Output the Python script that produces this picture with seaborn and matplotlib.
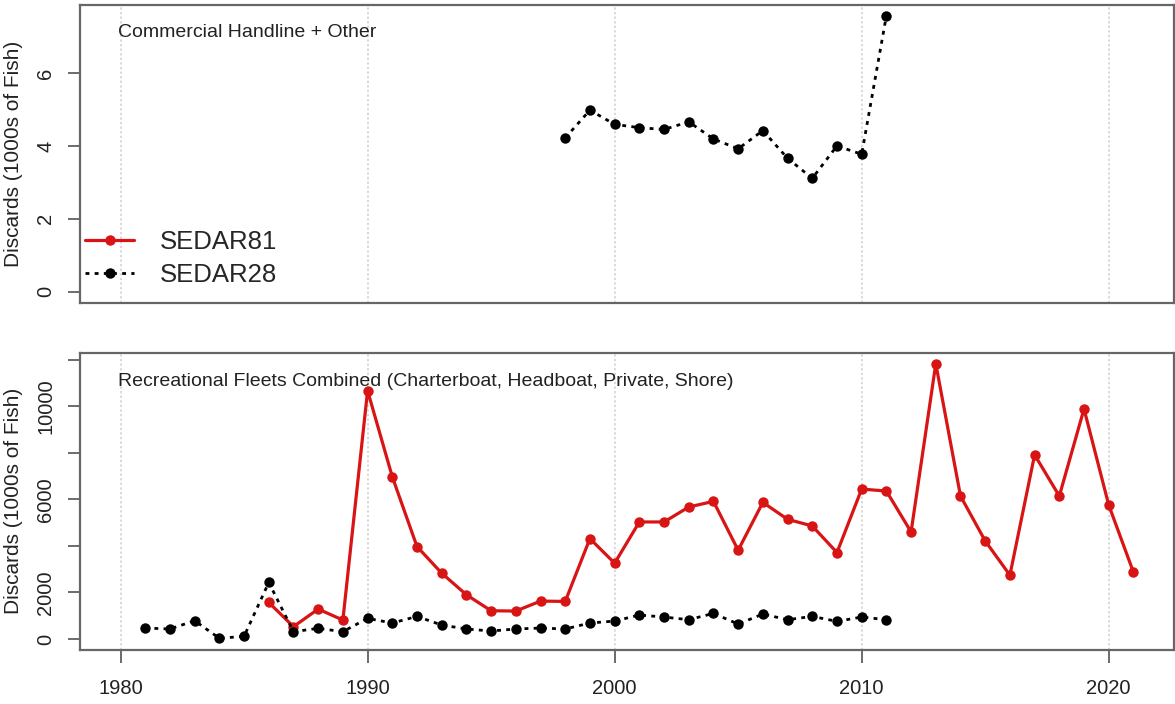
import seaborn as sns
from matplotlib import pyplot as plt
import numpy as np
import pandas as pd

# commercial handline + other (SEDAR28 only)
com_years_s28 = list(range(1998, 2012))
com_s28 = [4.22, 4.98, 4.59, 4.50, 4.45, 4.66, 4.19, 3.92, 4.42, 3.66, 3.11, 4.00, 3.77, 7.57]

# recreational fleets combined
rec_years_s81 = list(range(1986, 2022))
rec_s81 = [1571, 530, 1286, 814, 10670, 6971, 3971, 2829, 1900, 1214, 1200, 1629, 1614, 4314,
           3257, 5029, 5029, 5671, 5914, 3814, 5871, 5143, 4857, 3714, 6443, 6357, 4600, 11829,
           6143, 4214, 2743, 7914, 6143, 9886, 5757, 2871]
rec_years_s28 = list(range(1981, 2012))
rec_s28 = [470, 430, 786, 30, 115, 2430, 315, 457, 315, 886, 686, 971, 600, 430, 343, 430,
           470, 430, 686, 771, 1029, 943, 829, 1100, 643, 1071, 829, 971, 757, 943, 829]

xticks = [1980, 1990, 2000, 2010, 2020]
top_yticks = [0, 2, 4, 6]
bot_yticks = [0, 2000, 4000, 6000, 8000, 10000, 12000]
bot_ylabels = ['0', '2000', '', '6000', '', '10000', '']

sns.set_style('white')
plt.rcParams['font.family'] = ['Liberation Sans', 'DejaVu Sans']

RED = '#d81414'
DOT = (0, (1.4, 1.9))
TXT = '#222222'


def rpad(lo, hi):
    # R style 4% axis padding
    d = (hi - lo) * 0.04
    return lo - d, hi + d


def style_axes(ax, ylim, yticks, ylabels, show_x):
    ax.set_xlim(*rpad(1980, 2021))
    ax.set_ylim(*rpad(*ylim))
    for x in xticks:
        ax.axvline(x, color='#cfcfcf', lw=1.1, ls=(0, (1.5, 1.5)), zorder=0)
    for s in ax.spines.values():
        s.set_color('#666666')
        s.set_linewidth(1.6)
    ax.set_yticks(yticks)
    ax.set_yticklabels(ylabels, rotation=90, va='center', color=TXT, fontsize=14.5)
    ax.tick_params(axis='y', length=9, width=1.1, color='#444444', pad=9, left=True)
    if show_x:
        ax.set_xticks(xticks)
        ax.set_xticklabels([str(x) for x in xticks], color=TXT, fontsize=14.5)
        ax.tick_params(axis='x', length=9, width=1.1, color='#444444', pad=12, bottom=True)
    else:
        ax.set_xticks([])
    ax.set_xlabel('')
    ax.set_ylabel('Discards (1000s of Fish)', fontsize=15, color=TXT)
    ax.yaxis.set_label_coords(-0.052, 0.5)


fig = plt.figure(figsize=(11.75, 7.04), dpi=100)
ax1 = fig.add_axes([0.0681, 0.570, 0.931, 0.4233])
ax2 = fig.add_axes([0.0681, 0.0767, 0.931, 0.4223])

# top panel
sns.lineplot(x=com_years_s28, y=com_s28, ax=ax1, color='black', lw=2, linestyle=DOT,
             marker='o', markersize=7.5, markeredgewidth=0)
style_axes(ax1, (0, max(com_s28)), top_yticks, [str(t) for t in top_yticks], False)
ax1.text(1979.9, 7.12, 'Commercial Handline + Other', fontsize=14, color=TXT, va='center')

# bottom panel
rec = pd.DataFrame({'year': rec_years_s81, 'val': rec_s81})
rec28 = pd.DataFrame({'year': rec_years_s28, 'val': rec_s28})
sns.lineplot(data=rec, x='year', y='val', ax=ax2, color=RED, lw=2.3, marker='o',
             markersize=7.5, markeredgewidth=0, label='SEDAR81')
sns.lineplot(data=rec28, x='year', y='val', ax=ax2, color='black', lw=2, linestyle=DOT,
             marker='o', markersize=7.5, markeredgewidth=0, label='SEDAR28')
style_axes(ax2, (0, max(max(rec_s81), max(rec_s28))), bot_yticks, bot_ylabels, True)
ax2.text(1979.9, 11050, 'Recreational Fleets Combined (Charterboat, Headboat, Private, Shore)',
         fontsize=14, color=TXT, va='center')

handles, labels = ax2.get_legend_handles_labels()
ax2.get_legend().remove()
ax1.legend(handles, labels, loc='lower left', bbox_to_anchor=(0.005, 0.052), frameon=False,
           fontsize=18.5, handlelength=1.9, handletextpad=1.0, labelspacing=0.35,
           borderpad=0, borderaxespad=0)

fig.savefig('out.png', dpi=100)
